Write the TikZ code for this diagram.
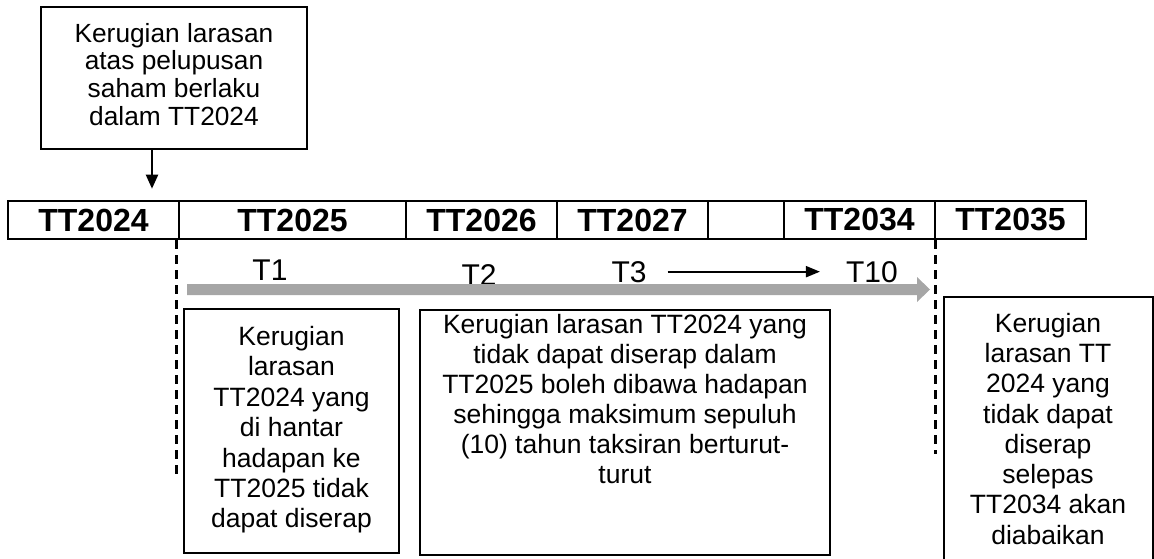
\documentclass[tikz,border=0pt]{standalone}
\usepackage{fontspec}
\setmainfont{Liberation Sans}
\usetikzlibrary{arrows.meta,calc}
\definecolor{bargray}{HTML}{A6A6A6}
\begin{document}
\begin{tikzpicture}[x=1pt,y=-1pt,
  cell/.style={draw,line width=2.6pt,inner sep=0pt,minimum height=38pt,font=\fontsize{32}{36}\selectfont\bfseries},
  frame/.style={draw,line width=2.2pt,inner sep=0pt},
  bodytext/.style={inner sep=0pt,align=center,anchor=north,font=\fontsize{26.5}{30.4}\selectfont},
  tlabel/.style={inner sep=0pt,anchor=base,font=\fontsize{30}{36}\selectfont},
  dashline/.style={line width=2.6pt,dash pattern=on 9pt off 6pt},
  arr/.style={line width=2.2pt,-{Triangle[width=12pt,length=14pt]}}]
\useasboundingbox (0,0) rectangle (1154,558);
\clip (0,0) rectangle (1154,558);

% top box
\node[frame,minimum width=266pt,minimum height=142pt] (topbox) at (174,78) {};
\node[bodytext,font=\fontsize{26.3}{27.7}\selectfont] (toptext) at (174,22.9)
  {Kerugian larasan\\atas pelupusan\\saham berlaku\\dalam TT2024};

% timeline row
\node[cell,minimum width=171pt] (c2024) at (93.5,220) {TT2024};
\node[cell,minimum width=227pt] (c2025) at (292.5,220) {TT2025};
\node[cell,minimum width=151pt] (c2026) at (481.5,220) {TT2026};
\node[cell,minimum width=151pt] (c2027) at (632.5,220) {TT2027};
\node[cell,minimum width=76pt]  (cgap)  at (746,220) {};
\node[cell,minimum width=151pt] (c2034) at (859.5,220) {TT2034};
\node[cell,minimum width=151pt] (c2035) at (1010.5,220) {TT2035};

% arrow from top box to the row
\draw[arr,shorten >=11pt] ([xshift=-22pt]topbox.south) -- ([xshift=-22pt]topbox.south |- c2024.north);

% dashed markers
\draw[dashline] ([xshift=-1pt]c2025.south west) -- ++(0,234);
\draw[dashline] ([xshift=2pt]c2035.south west) -- ++(0,214);

% T labels
\node[tlabel] (t1) at (270,280) {T1};
\node[tlabel] (t2) at (479,285) {T2};
\node[tlabel] (t3) at (629,282) {T3};
\node[tlabel] (t10) at (872,282) {T10};
\draw[line width=2pt,-{Triangle[width=11pt,length=14pt]},shorten <=21pt,shorten >=26pt] (t3.east) -- (t10.west);

% grey arrow
\fill[bargray] (187,284) -- (917,284) -- (917,277) -- (930,289.5) -- (917,302) -- (917,295) -- (187,295) -- cycle;

% lower boxes
\node[frame,minimum width=215pt,minimum height=244pt] (leftbox) at (291.5,431) {};
\node[bodytext] (lefttext) at (291.5,326)
  {Kerugian\\larasan\\TT2024 yang\\di hantar\\hadapan ke\\TT2025 tidak\\dapat diserap};

\node[frame,minimum width=410pt,minimum height=245pt] (midbox) at (625,432.5) {};
\node[bodytext,font=\fontsize{26.5}{30}\selectfont] (midtext) at (625,314)
  {Kerugian larasan TT2024 yang\\tidak dapat diserap dalam\\TT2025 boleh dibawa hadapan\\sehingga maksimum sepuluh\\(10) tahun taksiran berturut-\\turut};

\node[frame,minimum width=209pt,minimum height=278pt] (rightbox) at (1048.5,436) {};
\node[bodytext,font=\fontsize{26.5}{30.3}\selectfont] (righttext) at (1048,312.7)
  {Kerugian\\larasan TT\\2024 yang\\tidak dapat\\diserap\\selepas\\TT2034 akan\\diabaikan};
\end{tikzpicture}
\end{document}
